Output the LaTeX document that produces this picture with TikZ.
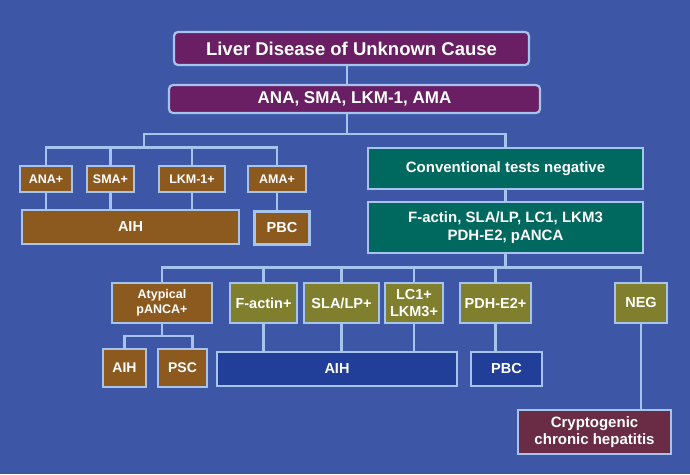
\documentclass[tikz,border=0pt]{standalone}
\usepackage{fontspec}
\setmainfont{Liberation Sans}
\usetikzlibrary{positioning}
\definecolor{bgblue}{HTML}{3D56A6}
\definecolor{edgeblue}{HTML}{A6C4EE}
\definecolor{plum}{HTML}{6A1E64}
\definecolor{tealbox}{HTML}{00695F}
\definecolor{brownbox}{HTML}{8C5A1E}
\definecolor{olivebox}{HTML}{7F7F2E}
\definecolor{navybox}{HTML}{213E98}
\definecolor{maroonbox}{HTML}{6A2C44}

\begin{document}
\begin{tikzpicture}[x=1pt, y=-1pt,
    box/.style={draw=edgeblue, line width=2.2pt, text=white, font=\bfseries, align=center, inner sep=1pt},
    link/.style={draw=edgeblue, line width=2.6pt}]
    % background
    \fill[bgblue] (0,0) rectangle (690,474);
    % top of the tree
    \node[box, fill=plum, rounded corners=4pt, minimum width=355pt, minimum height=33pt, font=\bfseries\fontsize{18.5}{20}\selectfont] (top) at (351.5,48.5) {Liver Disease of Unknown Cause};
    \node[box, fill=plum, rounded corners=4pt, minimum width=371pt, minimum height=28pt, font=\bfseries\fontsize{17}{19}\selectfont] (abs) at (354.5,99) {ANA, SMA, LKM-1, AMA};
    % conventional antibodies
    \foreach \n/\x/\w/\t in {anap/46/52/ANA+, smap/110.5/47/SMA+, lkmp/192/66/LKM-1+, amap/277/58/AMA+} {
        \node[box, fill=brownbox, minimum width=\w pt, minimum height=26pt, font=\bfseries\fontsize{12.5}{14}\selectfont] (\n) at (\x,178.7) {\t};
    }
    \node[box, fill=brownbox, minimum width=217pt, minimum height=34pt, font=\bfseries\fontsize{14.5}{16}\selectfont] (aihL) at (130.5,227) {AIH};
    \node[box, fill=brownbox, minimum width=55pt, minimum height=33pt, font=\bfseries\fontsize{14.5}{16}\selectfont] (pbcL) at (282,228) {PBC};
    % second line tests
    \node[box, fill=tealbox, minimum width=275pt, minimum height=41pt, font=\bfseries\fontsize{15}{17}\selectfont] (conv) at (505.5,168.5) {Conventional tests negative};
    \node[box, fill=tealbox, minimum width=275pt, minimum height=51pt, font=\bfseries\fontsize{15}{18}\selectfont] (fpan) at (505.5,227.5) {F-actin, SLA/LP, LC1, LKM3\\PDH-E2, pANCA};
    \node[box, fill=brownbox, minimum width=100pt, minimum height=40pt, font=\bfseries\fontsize{12.5}{15}\selectfont] (atyp) at (162,303) {Atypical\\pANCA+};
    \foreach \n/\x/\w/\t in {fa/263.5/67/F-actin+, sla/341.5/75/{SLA/LP+}, lc/414/58/LC1+\\LKM3+, pdh/495.5/71/PDH-E2+, neg/641/52/NEG} {
        \node[box, fill=olivebox, minimum width=\w pt, minimum height=40pt, font=\bfseries\fontsize{14.5}{17}\selectfont] (\n) at (\x,303) {\t};
    }
    % diagnoses
    \node[box, fill=brownbox, minimum width=43pt, minimum height=38pt, font=\bfseries\fontsize{14}{16}\selectfont] (aihS) at (124.5,368) {AIH};
    \node[box, fill=brownbox, minimum width=49pt, minimum height=38pt, font=\bfseries\fontsize{14}{16}\selectfont] (psc) at (182.5,368) {PSC};
    \node[box, fill=navybox, minimum width=240pt, minimum height=34pt, font=\bfseries\fontsize{14.5}{16}\selectfont] (aihB) at (337,369) {AIH};
    \node[box, fill=navybox, minimum width=71pt, minimum height=34pt, font=\bfseries\fontsize{14.5}{16}\selectfont] (pbcB) at (506.5,369) {PBC};
    \node[box, fill=maroonbox, minimum width=153pt, minimum height=44pt, font=\bfseries\fontsize{15}{17}\selectfont] (cry) at (594.5,432) {Cryptogenic\\chronic hepatitis};
    % junctions
    \coordinate (jT) at (347,134);
    \coordinate (jA) at (144,134);
    \coordinate (jL) at (144,147.5);
    \coordinate (jF) at (505.5,267.5);
    \coordinate (jP) at (162,336);
    % connectors
    \draw[link] (top.south -| jT) -- (abs.north -| jT);
    \draw[link] (abs.south -| jT) -- (jT);
    \draw[link] (jL) -- (jA) -| (conv.north);
    \draw[link] (anap.north) |- (jL) -| (amap.north);
    \foreach \n in {smap,lkmp} \draw[link] (\n.north) -- (\n.north |- jL);
    \foreach \n in {anap,smap,lkmp} \draw[link] (\n.south) -- (\n.south |- aihL.north);
    \draw[link] (amap.south) -- (amap.south |- pbcL.north);
    \draw[link] (conv.south) -- (fpan.north);
    \draw[link] (fpan.south) -- (jF);
    \draw[link] (atyp.north) |- (jF) -| (neg.north);
    \foreach \n in {fa,sla,lc,pdh} \draw[link] (\n.north) -- (\n.north |- jF);
    \draw[link] (atyp.south) -- (jP);
    \draw[link] (aihS.north) |- (jP) -| ([xshift=10pt]psc.north);
    \foreach \n in {fa,sla,lc} \draw[link] (\n.south) -- (\n.south |- aihB.north);
    \draw[link] (pdh.south) -- (pdh.south |- pbcB.north);
    \draw[link] (neg.south) -- (neg.south |- cry.north);
\end{tikzpicture}
\end{document}
